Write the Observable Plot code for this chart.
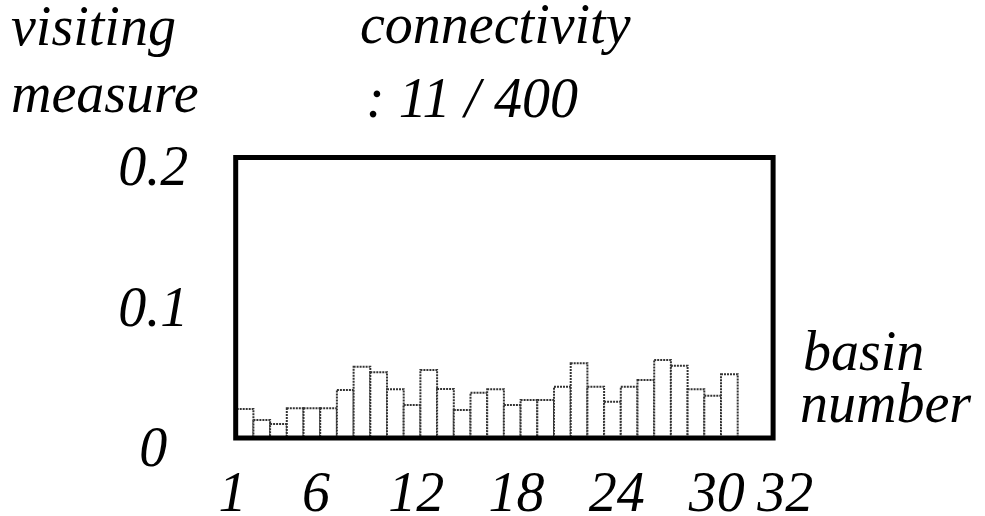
<!DOCTYPE html>
<html>
<head>
<meta charset="utf-8">
<script src="https://cdn.jsdelivr.net/npm/d3@7"></script>
<script src="https://cdn.jsdelivr.net/npm/@observablehq/plot@0.6"></script>
<style>
  html, body { margin: 0; padding: 0; background: #fff; }
  #wrap { position: relative; width: 985px; height: 516px; overflow: hidden; }
  .lbl { position: absolute; font-family: "Liberation Serif", "Times New Roman", serif; font-style: italic; font-size: 56px; line-height: 56px; color: #000; white-space: pre; }
</style>
</head>
<body>
<div id="wrap"></div>
<script>
// ---- data ----
const basins = d3.range(1, 33); // basin numbers 1..32
const measure = [0.0203, 0.0125, 0.0096, 0.0208, 0.0208, 0.0208, 0.0339, 0.0505, 0.0465, 0.0344,
                 0.0232, 0.0481, 0.0346, 0.0196, 0.0319, 0.0344, 0.0232, 0.0267, 0.0267, 0.0362,
                 0.0529, 0.0362, 0.0255, 0.0362, 0.0410, 0.0553, 0.0512, 0.0344, 0.0298, 0.0451,
                 0, 0];
const xTicksMain = [1, 6, 12, 18, 24, 30];
const xTicksEnd = [32];
const yTicks = [0, 0.1, 0.2];
const yTickLabels = ["0", "0.1", "0.2"];
const texts = {
  yTitle: ["visiting", "measure"],
  title: ["connectivity", ": 11 / 400"],
  xTitle: ["basin", "number"]
};

const data = basins.map((b, i) => ({basin: b, value: measure[i]})).filter(d => d.value > 0);

const font = {fontFamily: "Liberation Serif, Times New Roman, serif", fontStyle: "italic", fontSize: 56};

const chart = Plot.plot({
  width: 985,
  height: 516,
  marginLeft: 236.7,
  marginRight: 213.9,
  marginTop: 157,
  marginBottom: 78.5,
  style: {background: "#fff", color: "#000", overflow: "visible"},
  x: {type: "band", domain: basins, padding: 0, round: false, axis: null, label: null},
  y: {domain: [0, 0.2], axis: null, label: null},
  marks: [
    Plot.barY(data, {x: "basin", y: "value", fill: "#fff", stroke: "#333", strokeWidth: 2, strokeDasharray: "2 1", insetLeft: 0, insetRight: 0}),
    Plot.frame({stroke: "#000", strokeWidth: 5, insetLeft: -1.5, insetRight: -1.5}),
    Plot.axisY(yTicks, {label: null, tickSize: 0, tickPadding: 0, textAnchor: "middle", lineAnchor: "middle", dx: -84, dy: 10,
      tickFormat: d => yTickLabels[yTicks.indexOf(d)], ...font}),
    Plot.axisX(xTicksMain, {label: null, tickSize: 0, tickPadding: 0, dx: -13, dy: 33, tickFormat: d => String(d), ...font}),
    Plot.axisX(xTicksEnd, {label: null, tickSize: 0, tickPadding: 0, dx: 22, dy: 33, tickFormat: d => String(d), ...font})
  ]
});

const wrap = document.getElementById("wrap");
wrap.appendChild(chart);

// text labels (baseline = top + ~47px)
function addLabel(txt, left, baseline) {
  const d = document.createElement("div");
  d.className = "lbl";
  d.textContent = txt;
  d.style.left = left + "px";
  d.style.top = (baseline - 47) + "px";
  wrap.appendChild(d);
}
addLabel(texts.yTitle[0], 11, 45);
addLabel(texts.yTitle[1], 11, 112);
addLabel(texts.title[0], 360, 43);
addLabel(texts.title[1], 366, 117);
addLabel(texts.xTitle[0], 803, 370);
addLabel(texts.xTitle[1], 800, 422);
</script>
</body>
</html>
